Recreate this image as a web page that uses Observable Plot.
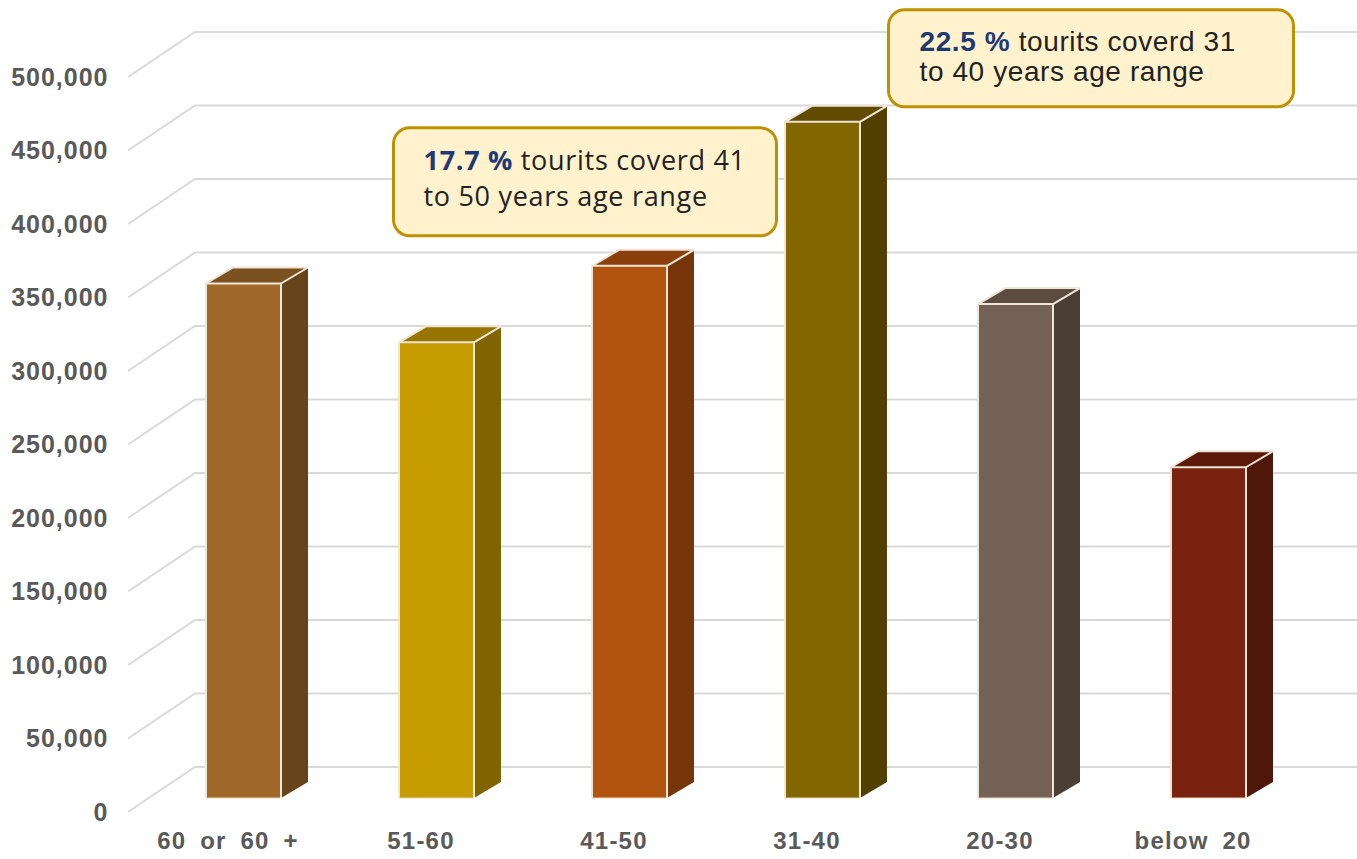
<!DOCTYPE html>
<html><head><meta charset="utf-8">
<script src="https://cdn.jsdelivr.net/npm/d3@7"></script>
<script src="https://cdn.jsdelivr.net/npm/@observablehq/plot@0.6"></script>
<style>
html,body{margin:0;padding:0;background:#fff;}
#chart{width:1357px;height:859px;overflow:hidden;position:relative}
#chart g[aria-label="x-axis tick label"] text{word-spacing:6px;letter-spacing:1.2px;}
#chart g[aria-label="y-axis tick label"] text{letter-spacing:1px;}
</style></head><body><div id="chart"></div>
<script>
// ---- data ----
const ageGroups = ["60 or 60 +", "51-60", "41-50", "31-40", "20-30", "below 20"];
const tourists = [350000, 310000, 362000, 460000, 336000, 225000];
const frontColors = ["#A0692A", "#C59B00", "#B1540F", "#826600", "#736255", "#7A2210"];
const topColors   = ["#7C5120", "#977600", "#8B400C", "#604B00", "#5B4B41", "#5D1A0B"];
const sideColors  = ["#67441A", "#7F6400", "#76360A", "#524000", "#4B3E35", "#4F160A"];
const yTicks = [0, 50000, 100000, 150000, 200000, 250000, 300000, 350000, 400000, 450000, 500000];
const calloutGroups = ["41-50", "31-40"];
const calloutPct = ["17.7 %", "22.5 %"];
const calloutLine1 = [" tourits coverd 41", " tourits coverd 31"];
const calloutLine2 = ["to 50 years age range", "to 40 years age range"];

const bars = ageGroups.map((g, i) => ({group: g, value: tourists[i], front: frontColors[i], top: topColors[i], side: sideColors[i]}));
const callouts = calloutGroups.map((g, i) => ({group: g, value: tourists[ageGroups.indexOf(g)], pct: calloutPct[i], l1: calloutLine1[i], l2: calloutLine2[i]}));

// ---- layout constants (pixels) ----
const FLOOR_DX = 67, FLOOR_DY = 45;   // depth of the floor / back wall
const BAR_OX = 16, BAR_OY = -14;      // front face offset inside the floor
const BAR_DX = 27, BAR_DY = 16;       // bar depth
const BAR_INSET = 59;
const EDGE = "#EFE6D8";
const calloutLayout = [
  {left: -220, top: -152, w: 383, h: 108, tx: 30, ty1: 42, ty2: 78, font: "'Open Sans', 'Noto Sans', sans-serif", size: 27, ls: 0.7},
  {left: 82, top: -126, w: 405, h: 97, tx: 31, ty1: 41, ty2: 71, font: "'Liberation Sans', Arial, sans-serif", size: 28, ls: 0.6}
];
const svgNS = "http://www.w3.org/2000/svg";
function el(name, attrs) {
  const e = document.createElementNS(svgNS, name);
  for (const k in attrs) e.setAttribute(k, attrs[k]);
  return e;
}
function bw(scales) {
  if (scales.x && typeof scales.x.bandwidth === "function") return scales.x.bandwidth();
  if (scales.scales && scales.scales.x && scales.scales.x.bandwidth != null) return scales.scales.x.bandwidth;
  return 0;
}

const plot = Plot.plot({
  width: 1357,
  height: 859,
  marginLeft: 130,
  marginRight: 67,
  marginTop: 77,
  marginBottom: 47,
  style: {background: "transparent", overflow: "visible"},
  x: {domain: ageGroups, padding: 0, label: null},
  y: {domain: [0, 500000], label: null},
  marks: [
    // gridlines: diagonal on the left side wall + horizontal on the back wall
    Plot.ruleY(yTicks, {
      y: d => d,
      render(index, scales, values, dimensions) {
        const g = el("g", {fill: "none", stroke: "#D9D9D9", "stroke-width": 2});
        const x0 = dimensions.marginLeft - 2;
        const x2 = dimensions.width;
        for (const i of index) {
          const y = values.y[i];
          g.appendChild(el("path", {d: `M${x0},${y}L${x0 + FLOOR_DX},${y - FLOOR_DY}L${x2},${y - FLOOR_DY}`}));
        }
        return g;
      }
    }),
    Plot.axisY({ticks: yTicks, tickFormat: d3.format(","), tickSize: 0, tickPadding: 22, fontSize: 25, fontWeight: "bold", fill: "#595959", fontFamily: "'Liberation Sans', Arial, sans-serif"}),
    Plot.axisX({tickSize: 0, tickPadding: 19, fontSize: 24, fontWeight: "bold", fill: "#595959", fontFamily: "'Liberation Sans', Arial, sans-serif"}),
    // 3D bars: front face via barY, top & side faces built from the same scaled values
    Plot.barY(bars, {
      x: "group", y: "value", fill: "front", insetLeft: BAR_INSET, insetRight: BAR_INSET,
      render(index, scales, values, dimensions, context, next) {
        const w = bw(scales) - 2 * BAR_INSET;
        const g = el("g", {});
        for (const i of index) {
          const d = bars[i];
          const xs = values.x[i] + BAR_INSET + BAR_OX;
          const yt = Math.min(values.y1[i], values.y2[i]) + BAR_OY;
          const yb = Math.max(values.y1[i], values.y2[i]) + BAR_OY;
          g.appendChild(el("path", {d: `M${xs + w},${yt}L${xs + w + BAR_DX},${yt - BAR_DY}L${xs + w + BAR_DX},${yb - BAR_DY}L${xs + w},${yb}Z`, fill: d.side, stroke: "none"}));
          g.appendChild(el("path", {d: `M${xs},${yt}L${xs + BAR_DX},${yt - BAR_DY}L${xs + w + BAR_DX},${yt - BAR_DY}L${xs + w},${yt}Z`, fill: d.top, stroke: "none"}));
          g.appendChild(el("rect", {x: xs, y: yt, width: w, height: yb - yt, fill: d.front, stroke: "none"}));
          g.appendChild(el("path", {d: `M${xs},${yb}L${xs},${yt}L${xs + BAR_DX},${yt - BAR_DY}L${xs + w + BAR_DX},${yt - BAR_DY}M${xs},${yt}L${xs + w},${yt}L${xs + w + BAR_DX},${yt - BAR_DY}M${xs + w},${yt}L${xs + w},${yb}`, fill: "none", stroke: EDGE, "stroke-width": 2, "stroke-linejoin": "round"}));
          g.appendChild(el("path", {d: `M${xs},${yb}L${xs + w},${yb}`, fill: "none", stroke: "#E7D6B8", "stroke-width": 1.2}));
        }
        return g;
      }
    }),
    // callouts anchored to their bars
    Plot.text(callouts, {
      x: "group", y: "value", text: "pct",
      render(index, scales, values, dimensions) {
        const b = bw(scales);
        const g = el("g", {"text-anchor": "start"});
        for (const i of index) {
          const c = callouts[i], L = calloutLayout[i];
          const ax = scales.x(c.group) + b / 2;
          const ay = scales.y(c.value);
          const bx = ax + L.left, by = ay + L.top;
          g.appendChild(el("rect", {x: bx, y: by, width: L.w, height: L.h, rx: 16, ry: 16, fill: "#FFF2CC", stroke: "#BF9000", "stroke-width": 3}));
          const t1 = el("text", {x: bx + L.tx, y: by + L.ty1, "font-family": L.font, "font-size": L.size, fill: "#222", "text-anchor": "start", "letter-spacing": L.ls});
          const s1 = el("tspan", {fill: "#1F3A73", "font-weight": "bold"}); s1.textContent = c.pct;
          const s2 = el("tspan", {}); s2.textContent = c.l1;
          t1.appendChild(s1); t1.appendChild(s2);
          t1.setAttribute("xml:space", "preserve");
          t1.style.whiteSpace = "pre";
          const t2 = el("text", {x: bx + L.tx, y: by + L.ty2, "font-family": L.font, "font-size": L.size, fill: "#222", "text-anchor": "start", "letter-spacing": L.ls});
          t2.textContent = c.l2;
          g.appendChild(t1); g.appendChild(t2);
        }
        return g;
      }
    })
  ]
});
document.getElementById("chart").appendChild(plot);
</script>
</body></html>
